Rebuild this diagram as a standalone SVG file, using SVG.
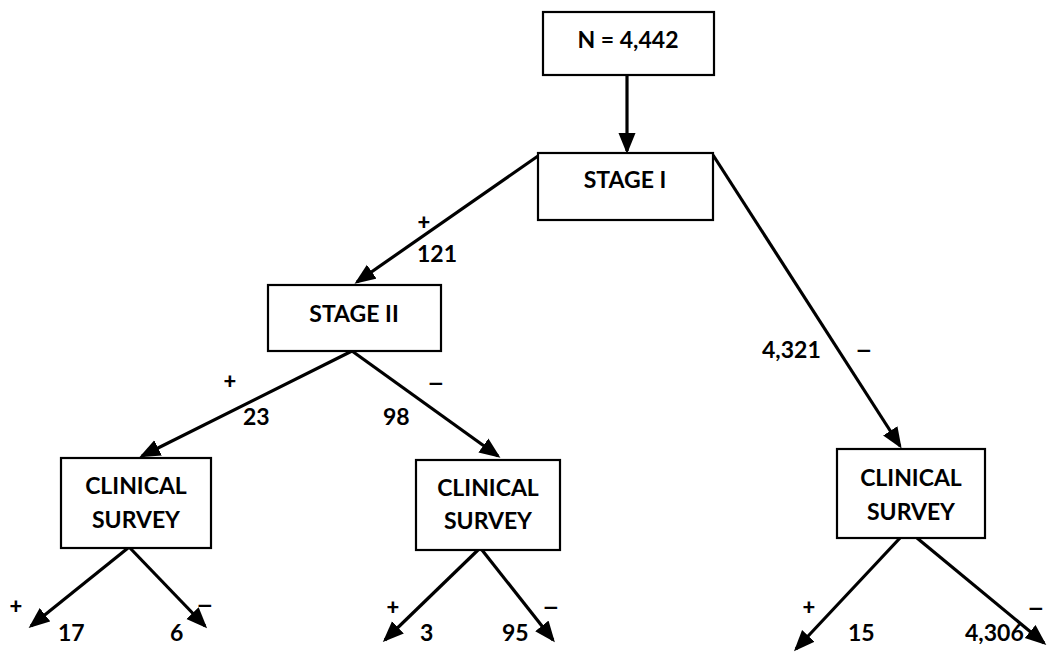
<svg xmlns="http://www.w3.org/2000/svg" width="1049" height="653" viewBox="0 0 1049 653">
<style>
.box{fill:#fff;stroke:#000;stroke-width:2.2}
.t{font-family:Lato,"Open Sans","Liberation Sans",sans-serif;font-weight:bold;font-size:23px;fill:#000}
.c{text-anchor:middle}
.s{font-family:Lato,"Open Sans","Liberation Sans",sans-serif;font-weight:900;font-size:22px;fill:#000;text-anchor:middle}
.m{font-family:"DejaVu Sans","Liberation Sans",sans-serif;font-weight:bold;font-size:20px;fill:#000;text-anchor:middle}
.e{fill:none;stroke:#000;stroke-width:3.2;marker-end:url(#ah)}
</style>
<defs>
<marker id="ah" markerUnits="userSpaceOnUse" markerWidth="22" markerHeight="18" refX="18" refY="8.5" orient="auto" viewBox="0 0 22 17">
<path d="M0,0 L21,8.5 L0,17 Z" fill="#000"/>
</marker>
</defs>
<rect width="1049" height="653" fill="#fff"/>
<g id="connectors">
<line class="e" x1="627" y1="75" x2="627" y2="151"/>
<line class="e" x1="538" y1="156" x2="357" y2="282"/>
<line class="e" x1="713" y1="155" x2="900" y2="446"/>
<line class="e" x1="352" y1="351" x2="142" y2="456"/>
<line class="e" x1="352" y1="351" x2="498" y2="456"/>
<line class="e" x1="128" y1="548" x2="31" y2="626"/>
<line class="e" x1="130" y1="548" x2="205" y2="626"/>
<line class="e" x1="478" y1="550" x2="385" y2="640"/>
<line class="e" x1="482" y1="550" x2="553" y2="640"/>
<line class="e" x1="900" y1="538" x2="796" y2="649"/>
<line class="e" x1="917" y1="538" x2="1044" y2="643"/>
</g>
<g id="labels">
<text class="s" x="424" y="230">+</text>
<text class="t" x="417" y="262">121</text>
<text class="t" x="762" y="358">4,321</text>
<text class="m" x="864" y="357">−</text>
<text class="s" x="230" y="389">+</text>
<text class="t" x="243" y="425">23</text>
<text class="m" x="436" y="390">−</text>
<text class="t" x="383" y="425">98</text>
<text class="s" x="16" y="614">+</text>
<text class="t" x="58" y="641">17</text>
<text class="t" x="170" y="641">6</text>
<text class="m" x="205" y="612">−</text>
<text class="s" x="393" y="615">+</text>
<text class="t" x="420" y="641">3</text>
<text class="t" x="502" y="641">95</text>
<text class="m" x="551" y="614">−</text>
<text class="s" x="809" y="615">+</text>
<text class="t" x="848" y="641">15</text>
<text class="t" x="965" y="641">4,306</text>
<text class="m" x="1036" y="615">−</text>
</g>
<g id="n-total">
<rect class="box" x="543" y="12" width="171" height="63"/>
<text class="t c" x="628" y="48">N = 4,442</text>
</g>
<g id="stage1">
<rect class="box" x="538" y="153" width="175" height="67"/>
<text class="t c" x="625" y="188">STAGE I</text>
</g>
<g id="stage2">
<rect class="box" x="268" y="285" width="173" height="66"/>
<text class="t c" x="354" y="322">STAGE II</text>
</g>
<g id="survey-left">
<rect class="box" x="61" y="458" width="150" height="90"/>
<text class="t c" x="136" y="494">CLINICAL</text>
<text class="t c" x="136" y="528">SURVEY</text>
</g>
<g id="survey-mid">
<rect class="box" x="416" y="460" width="144" height="90"/>
<text class="t c" x="488" y="496">CLINICAL</text>
<text class="t c" x="488" y="529">SURVEY</text>
</g>
<g id="survey-right">
<rect class="box" x="837" y="449" width="148" height="89"/>
<text class="t c" x="911" y="486">CLINICAL</text>
<text class="t c" x="911" y="520">SURVEY</text>
</g>
</svg>
